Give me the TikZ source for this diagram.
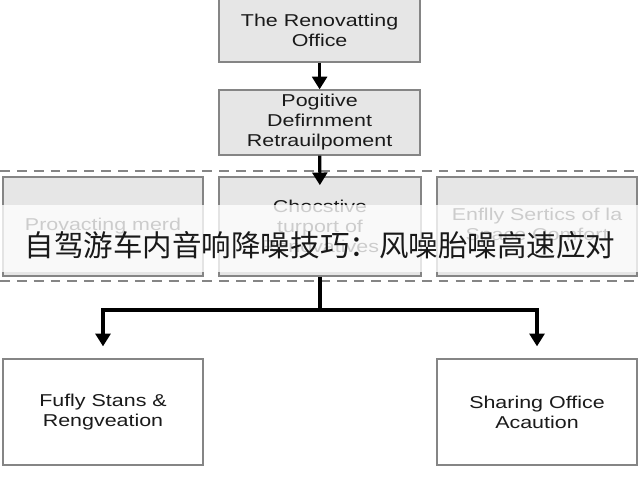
\documentclass[tikz,border=0pt]{standalone}
\usepackage{fontspec}
\setmainfont{Liberation Sans}[FakeStretch=1.25]
\newfontfamily\cjk{Noto Sans CJK SC}
\usetikzlibrary{shapes,arrows.meta}

\definecolor{boxline}{HTML}{858585}
\definecolor{boxfill}{HTML}{E6E6E6}
\definecolor{boxtext}{HTML}{1A1A1A}

\tikzset{
  graybox/.style={shape=rectangle,draw=boxline,fill=boxfill,align=center,line width=0.9pt,
    text=boxtext,inner sep=0pt,font=\fontsize{12.2}{14.2}\selectfont},
  whitebox/.style={graybox,fill=white},
  flow/.style={-{Triangle[width=10.5pt,length=9pt]},draw=black,line width=2.2pt}
}

\begin{document}
\begin{tikzpicture}
\useasboundingbox (0,0) rectangle (16,12);
\clip (0,0) rectangle (16,12);

\node[graybox,minimum width=5.025cm,minimum height=1.6cm] (0) at (7.99,11.25) {The Renovatting\\Office};
\node[graybox,minimum width=5.025cm,minimum height=1.625cm] (1) at (7.99,8.9375) {Pogitive\\Defirnment\\Retrauilpoment};

% dashed band round the middle row
\draw[boxline,dashed,dash pattern=on 7pt off 5pt,line width=0.9pt] (0,7.725) -- (16,7.725);
\draw[boxline,dashed,dash pattern=on 7pt off 5pt,line width=0.9pt] (0,4.975) -- (16,4.975);

\node[graybox,minimum width=5cm,minimum height=2.475cm] (2) at (2.575,6.3375) {Provacting merd};
\node[graybox,minimum width=5.05cm,minimum height=2.475cm] (3) at (8,6.3375) {Chocstive\\turport of\\Renovatives};
\node[graybox,minimum width=5cm,minimum height=2.475cm] (4) at (13.425,6.3375) {Enflly Sertics of la\\Space Comfort};

\node[whitebox,minimum width=5cm,minimum height=2.65cm] (5) at (2.575,1.7) {Fufly Stans \&\\Rengveation};
\node[whitebox,minimum width=5cm,minimum height=2.65cm] (6) at (13.425,1.7) {Sharing Office\\Acaution};

\path [flow] (0) edge node {} (1);
\path [flow,shorten >=-0.22cm] (1) edge node {} (3);
\draw [flow,-] (3.south) -- (8,4.25) coordinate (7);
\draw [flow,shorten >=0.3cm] (7) -| (5.north);
\draw [flow,shorten >=0.3cm] (7) -| (6.north);

% caption strip over the middle row
\fill[white,opacity=0.78] (0,5.2) rectangle (16,6.875);
\node[font=\cjk\fontsize{21}{24}\selectfont,text=black!90,inner sep=0pt] (8) at (8,5.88) {自驾游车内音响降噪技巧：风噪胎噪高速应对};
\end{tikzpicture}
\end{document}
